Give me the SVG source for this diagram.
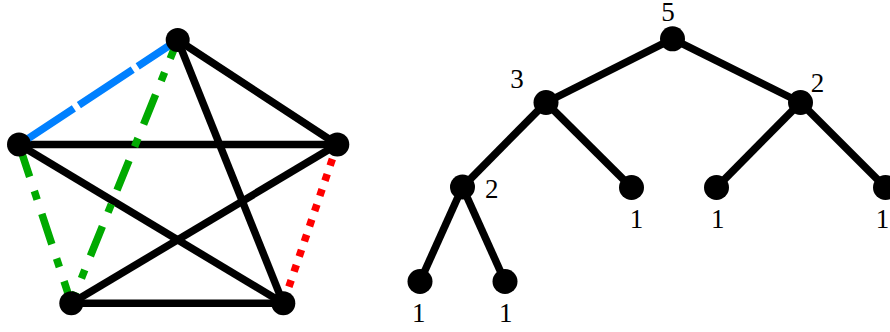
<svg xmlns="http://www.w3.org/2000/svg" width="890" height="332" viewBox="0 0 890 332">
<style>
.e{stroke:#000;stroke-width:7.5;fill:none}
.n{fill:#000}
.lbl{font-family:"Liberation Serif","Times New Roman",serif;font-size:27px;fill:#000;text-anchor:middle}
.blue{stroke:#0080FF;stroke-width:7.5;fill:none;stroke-dasharray:64.4 6}
.green{stroke:#00AA00;stroke-width:7.5;fill:none;stroke-dasharray:32 15 9 15}
.red{stroke:#FF0000;stroke-width:7.5;fill:none;stroke-dasharray:7 9}
</style>
<g id="connectors">
<line class="e" x1="177.7" y1="40" x2="337.3" y2="144.5"/>
<line class="e" x1="177.7" y1="40" x2="283.3" y2="303.3"/>
<line class="e" x1="19" y1="144.5" x2="337.3" y2="144.5"/>
<line class="e" x1="19" y1="144.5" x2="283.3" y2="303.3"/>
<line class="e" x1="337.3" y1="144.5" x2="71.3" y2="303.3"/>
<line class="e" x1="71.3" y1="303.3" x2="283.3" y2="303.3"/>
<line class="blue" x1="19" y1="144.5" x2="177.7" y2="40" stroke-dashoffset="69.1"/>
<line class="green" x1="177.7" y1="40" x2="71.3" y2="303.3" stroke-dashoffset="12"/>
<line class="green" x1="19" y1="144.5" x2="71.3" y2="303.3" stroke-dashoffset="69"/>
<line class="red" x1="337.3" y1="144.5" x2="283.3" y2="303.3" stroke-dashoffset="0.7"/>
<line class="e" x1="672.5" y1="38.8" x2="546" y2="102.5"/>
<line class="e" x1="672.5" y1="38.8" x2="800.5" y2="102.5"/>
<line class="e" x1="546" y1="102.5" x2="462.5" y2="187"/>
<line class="e" x1="546" y1="102.5" x2="631.5" y2="187.5"/>
<line class="e" x1="800.5" y1="102.5" x2="716.5" y2="187.5"/>
<line class="e" x1="800.5" y1="102.5" x2="885.5" y2="187.5"/>
<line class="e" x1="462.5" y1="187" x2="420" y2="281.5"/>
<line class="e" x1="462.5" y1="187" x2="505" y2="281.5"/>
</g>
<g id="g-top"><circle class="n" cx="177.7" cy="40" r="12"/></g>
<g id="g-left"><circle class="n" cx="19" cy="144.5" r="12"/></g>
<g id="g-right"><circle class="n" cx="337.3" cy="144.5" r="12"/></g>
<g id="g-botleft"><circle class="n" cx="71.3" cy="303.3" r="12"/></g>
<g id="g-botright"><circle class="n" cx="283.3" cy="303.3" r="12"/></g>
<g id="t-root"><circle class="n" cx="672.5" cy="38.8" r="12.5"/><text class="lbl" x="668" y="21">5</text></g>
<g id="t-3"><circle class="n" cx="546" cy="102.5" r="12.5"/><text class="lbl" x="517" y="88">3</text></g>
<g id="t-2r"><circle class="n" cx="800.5" cy="102.5" r="12.5"/><text class="lbl" x="817.5" y="91.5">2</text></g>
<g id="t-2l"><circle class="n" cx="462.5" cy="187" r="12.5"/><text class="lbl" x="491.7" y="198.3">2</text></g>
<g id="t-leafA"><circle class="n" cx="631.5" cy="187.5" r="12.5"/><text class="lbl" x="636.5" y="228.3">1</text></g>
<g id="t-leafB"><circle class="n" cx="716.5" cy="187.5" r="12.5"/><text class="lbl" x="717.8" y="228.3">1</text></g>
<g id="t-leafC"><circle class="n" cx="885.5" cy="187.5" r="12.5"/><text class="lbl" x="882.5" y="228">1</text></g>
<g id="t-leafD"><circle class="n" cx="420" cy="281.5" r="12.5"/><text class="lbl" x="418.7" y="321.7">1</text></g>
<g id="t-leafE"><circle class="n" cx="505" cy="281.5" r="12.5"/><text class="lbl" x="505.8" y="321.7">1</text></g>
</svg>
